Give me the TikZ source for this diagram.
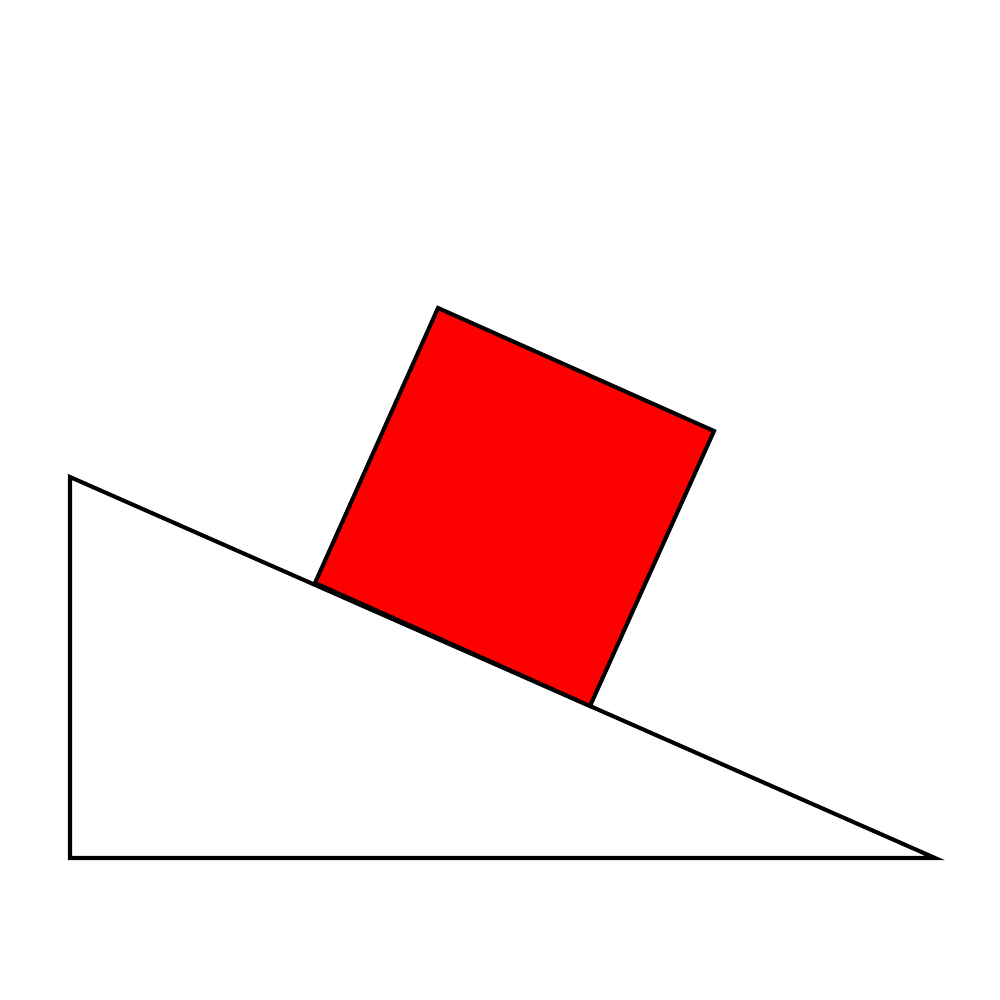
\documentclass[tikz,border=0pt]{standalone}
\usepackage{tikz}

\begin{document}
\begin{tikzpicture}[
      line width=1.15pt,
      wedge/.style={draw=black, fill=white},
      block/.style={draw=black, fill=red}
    ]

    \useasboundingbox (0,0) rectangle (10,10);

    % Inclined plane
    \coordinate (top) at (0.70, 5.23);
    \coordinate (corner) at (0.70, 1.42);
    \coordinate (tip) at (9.35, 1.42);
    \draw[wedge] (top) -- (corner) -- (tip) -- cycle;

    % Block on the slope
    \coordinate (b1) at (3.15, 4.17);
    \coordinate (b2) at (5.90, 2.94);
    \coordinate (b3) at (7.14, 5.69);
    \coordinate (b4) at (4.38, 6.92);
    \draw[block] (b1) -- (b2) -- (b3) -- (b4) -- cycle;

  \end{tikzpicture}
\end{document}
